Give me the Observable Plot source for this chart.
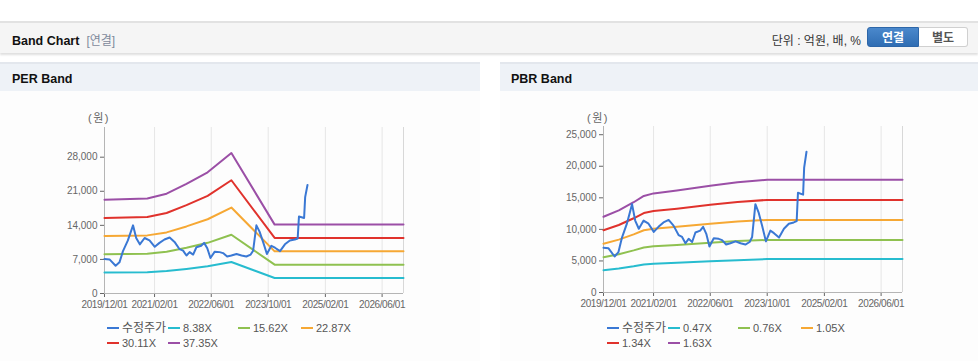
<!DOCTYPE html>
<html><head><meta charset="utf-8">
<script src="https://cdn.jsdelivr.net/npm/d3@7"></script>
<script src="https://cdn.jsdelivr.net/npm/@observablehq/plot@0.6"></script>
<style>
html,body{margin:0;padding:0;background:#fff;}
body{width:978px;height:361px;position:relative;overflow:hidden;font-family:"Liberation Sans","Noto Sans CJK KR",Arial,sans-serif;}
.hdr{position:absolute;left:0;top:21px;width:978px;height:30px;background:#f5f5f5;border-top:2px solid #e2e2e2;box-shadow:0 2px 2px rgba(0,0,0,0.13);}
.hdr .t{position:absolute;left:12px;top:8px;font-size:12.5px;font-weight:bold;color:#111;}
.hdr .t span{font-weight:normal;color:#7f8a9c;font-size:12px;margin-left:7px;}
.hdr .unit{position:absolute;right:117px;top:8px;font-size:12px;color:#333;}
.btn{position:absolute;top:4px;height:20px;font-size:12px;font-weight:bold;line-height:20px;text-align:center;box-sizing:border-box;}
.b1{left:867px;width:52px;background:linear-gradient(#4a88cc,#2f6db3);color:#fff;border:1px solid #2d66a8;border-radius:3px 0 0 3px;}
.b2{left:919px;width:49px;background:#fff;color:#555;border:1px solid #d0d0d0;border-left:none;border-radius:0 3px 3px 0;}
.panel{position:absolute;top:62px;height:299px;background:#fdfdfd;}
.strip{position:absolute;left:0;top:0;right:0;height:27px;background:#eef2f7;border-top:2px solid #e3e7ed;}
.strip div{position:absolute;left:12px;top:8px;font-size:12.5px;font-weight:bold;color:#111;}
.unitlab{position:absolute;top:109px;font-size:11px;color:#666;letter-spacing:1.5px;}
.chart{position:absolute;top:95px;}
.leg{position:absolute;font-size:11px;color:#555;white-space:nowrap;line-height:13px;}
.leg i{display:inline-block;width:12px;height:2px;vertical-align:middle;margin-right:3px;position:relative;top:-1px;}
</style></head>
<body>
<div class="hdr"><div class="t">Band Chart<span>[연결]</span></div>
<div class="unit">단위 : 억원, 배, %</div>
<div class="btn b1">연결</div><div class="btn b2">별도</div></div>
<div class="panel" style="left:0;width:480px"><div class="strip"><div>PER Band</div></div></div>
<div class="panel" style="left:500px;width:478px"><div class="strip"><div style="left:11px">PBR Band</div></div></div>
<div class="unitlab" style="left:88px">(원)</div>
<div class="unitlab" style="left:587px">(원)</div>
<div id="per" class="chart" style="left:0"></div>
<div id="pbr" class="chart" style="left:500px"></div>
<div id="legs"></div>
<script>
// ---- data ----
const xTickLabels = ["2019/12/01","2021/02/01","2022/06/01","2023/10/01","2025/02/01","2026/06/01"];
const xDomain = ["2019-12-01","2026-12-01"];
const perYTicks = [0,7000,14000,21000,28000];
const pbrYTicks = [0,5000,10000,15000,20000,25000];
const colors = ["#3a78d4","#27bccf","#8fc150","#f6a834","#e0322c","#9b4fa6"];
const perNames = ["수정주가","8.38X","15.62X","22.87X","30.11X","37.35X"];
const pbrNames = ["수정주가","0.47X","0.76X","1.05X","1.34X","1.63X"];

const priceDates = ["2019-12-01","2020-01-13","2020-03-05","2020-04-07","2020-05-07","2020-06-18","2020-08-01","2020-08-28","2020-09-28","2020-11-08","2020-12-20","2021-02-03","2021-03-15","2021-04-27","2021-06-10","2021-07-22","2021-09-03","2021-10-03","2021-11-01","2021-11-28","2021-12-28","2022-01-25","2022-03-07","2022-04-01","2022-04-28","2022-05-25","2022-07-01","2022-08-12","2022-09-10","2022-10-15","2022-11-20","2023-01-03","2023-02-15","2023-03-28","2023-05-04","2023-05-25","2023-06-22","2023-07-19","2023-08-18","2023-09-20","2023-10-28","2023-11-28","2024-01-10","2024-02-21","2024-04-03","2024-05-15","2024-06-09","2024-06-20","2024-08-03","2024-08-12","2024-09-01"];
const priceValues = [7100,7000,5700,6400,8700,10900,14000,11400,10100,11400,10900,9600,10400,11100,11500,10600,9100,8800,7800,8500,8000,9500,9800,10400,9300,7300,8600,8500,8300,7600,7800,8100,7800,7600,8000,8800,14000,12700,10600,8100,9800,9400,8700,10100,10900,11100,11300,15800,15500,19800,22300];

const perBandDates = ["2019-12-01","2020-12-01","2021-05-15","2021-11-01","2022-05-01","2022-11-20","2023-11-25","2026-12-01"];
const per838 = [4320,4380,4600,5050,5590,6470,3180,3180];
const per1562 = [8050,8160,8570,9410,10410,12070,5920,5920];
const per2287 = [11790,11940,12550,13780,15250,17660,8660,8660];
const per3011 = [15520,15720,16530,18140,20070,23260,11410,11410];
const per3735 = [19250,19500,20500,22500,24900,28850,14150,14150];

const pbrBandDates = ["2019-12-01","2020-04-10","2020-08-15","2020-11-10","2021-02-01","2021-08-20","2022-06-01","2023-01-20","2023-10-01","2026-12-01"];
const pbr047 = [3530,3800,4150,4450,4560,4700,4950,5100,5300,5300];
const pbr076 = [5600,6060,6670,7130,7320,7530,7880,8140,8320,8320];
const pbr105 = [7730,8380,9210,9860,10110,10400,10890,11240,11500,11500];
const pbr134 = [9870,10690,11760,12580,12910,13280,13890,14350,14670,14670];
const pbr163 = [12000,13000,14300,15300,15700,16150,16900,17450,17850,17850];

// ---- helpers ----
const P = s => new Date(s + "T00:00:00Z");
const toRows = (dates, vals) => dates.map((d,i) => ({date: P(d), value: vals[i]}));
const xTicks = xTickLabels.map(s => P(s.replace(/\//g,"-")));
const fmtDate = d3.utcFormat("%Y/%m/%d");

function chart(el, {width, marginLeft, marginRight, marginTop, marginBottom, yMax, yTicks, bandDates, bands}) {
  const x0 = P(xDomain[0]), x1 = P(xDomain[1]);
  const price = toRows(priceDates, priceValues);
  const marks = [
    Plot.ruleX(xTicks.slice(1), {stroke:"#e6e6e6", strokeWidth:1}),
    Plot.ruleX([x1], {stroke:"#d8d8d8"}),
    Plot.ruleX([x0], {stroke:"#b5b5b5"}),
    Plot.ruleY([0], {stroke:"#b5b5b5"})
  ];
  bands.forEach((vals, i) => {
    marks.push(Plot.line(toRows(bandDates, vals), {x:"date", y:"value", stroke: colors[i+1], strokeWidth:2}));
  });
  marks.push(Plot.line(price, {x:"date", y:"value", stroke: colors[0], strokeWidth:2}));
  const svg = Plot.plot({
    width, height: 218, marginLeft, marginRight, marginTop, marginBottom,
    style: {fontFamily:'"Liberation Sans", Arial, sans-serif', fontSize:"10px", color:"#666", background:"transparent", overflow:"visible"},
    x: {type:"utc", domain:[x0, x1], ticks: xTicks, tickFormat: fmtDate, tickSize:4, tickPadding:3, label:null},
    y: {domain:[0, yMax], ticks: yTicks, tickFormat: d3.format(","), tickSize:4, tickPadding:3, label:null},
    marks
  });
  svg.querySelectorAll('[aria-label="x-axis tick label"] text').forEach(t => t.setAttribute("letter-spacing","-0.4"));
  document.getElementById(el).appendChild(svg);
}

chart("per", {width:480, marginLeft:104, marginRight:77, marginTop:32, marginBottom:20, yMax:34100, yTicks:perYTicks,
  bandDates: perBandDates, bands:[per838, per1562, per2287, per3011, per3735]});
chart("pbr", {width:478, marginLeft:103, marginRight:76, marginTop:31, marginBottom:21, yMax:26300, yTicks:pbrYTicks,
  bandDates: pbrBandDates, bands:[pbr047, pbr076, pbr105, pbr134, pbr163]});

// legends
function legend(names, baseX) {
  const cols = [0, 61, 131, 194];
  const wrap = document.getElementById("legs");
  names.forEach((n, i) => {
    const row = i < 4 ? 0 : 1, col = i < 4 ? i : i - 4;
    const d = document.createElement("div");
    d.className = "leg";
    d.style.left = (baseX + cols[col]) + "px";
    d.style.top = (row === 0 ? 322 : 337) + "px";
    d.innerHTML = `<i style="background:${colors[i]}"></i>`;
    const s = document.createElement("span");
    s.textContent = n;
    if (i === 0) s.style.fontSize = "12px";
    d.appendChild(s);
    wrap.appendChild(d);
  });
}
legend(perNames, 107);
legend(pbrNames, 607);
</script>
</body></html>
